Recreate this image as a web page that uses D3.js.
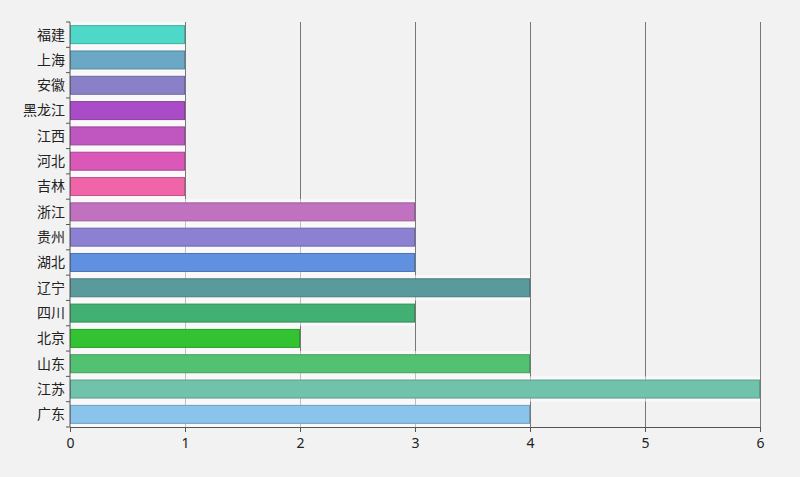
<!DOCTYPE html>
<html><head><meta charset="utf-8">
<script src="https://cdn.jsdelivr.net/npm/d3@7"></script>
<style>
html,body{margin:0;padding:0;background:#f2f2f2;}
svg{display:block;font-family:"Noto Sans CJK SC","Noto Sans",sans-serif;}
</style></head>
<body><svg id="c" width="800" height="477"></svg>
<script>
const categories = ["福建","上海","安徽","黑龙江","江西","河北","吉林","浙江","贵州","湖北","辽宁","四川","北京","山东","江苏","广东"];
const values = [1,1,1,1,1,1,1,3,3,3,4,3,2,4,6,4];
const colors = ["#4ed8c8","#6aa8c6","#8a80c8","#aa4cc8","#c056c0","#da58b8","#f064a8","#c072c0","#8c80d2","#6090e0","#5a9a9c","#42b072","#32c232","#52c272","#70c2aa","#8ac4ea"];
const xTicks = [0,1,2,3,4,5,6];

const svg = d3.select("#c");
const m = {left:70, right:40, top:22, bottom:50};
const W = 800, H = 477;
const x = d3.scaleLinear().domain([0,6]).range([m.left, 760]);
const y = d3.scaleBand().domain(categories).range([m.top, 427]).paddingInner(0.25).paddingOuter(0.125);

// gridlines
svg.append("g").selectAll("line").data(xTicks.filter(d=>d>0)).join("line")
  .attr("x1",d=>x(d)).attr("x2",d=>x(d)).attr("y1",m.top).attr("y2",427)
  .attr("stroke","#777").attr("stroke-width",1).attr("shape-rendering","crispEdges");

// halos
const step = y.step();
svg.append("g").selectAll("rect").data(categories).join("rect")
  .attr("x",x(0)).attr("y",d=>y(d)-(step-y.bandwidth())/2)
  .attr("width",(d,i)=>x(values[i])-x(0)).attr("height",step)
  .attr("fill","#fff").attr("opacity",0.55);

// bars
svg.append("g").selectAll("rect").data(categories).join("rect")
  .attr("x",x(0)+0.5).attr("y",d=>y(d)+0.5)
  .attr("width",(d,i)=>x(values[i])-x(0)-1).attr("height",y.bandwidth()-1)
  .attr("fill",(d,i)=>colors[i])
  .attr("stroke",(d,i)=>d3.color(colors[i]).darker(0.6))
  .attr("stroke-width",1);

// x axis
const xa = svg.append("g").attr("transform",`translate(0,427)`)
  .call(d3.axisBottom(x).tickValues(xTicks).tickFormat(d3.format("d")).tickSize(5).tickSizeOuter(0));
xa.select(".domain").attr("stroke","#555");
xa.selectAll(".tick line").attr("stroke","#555");
xa.selectAll("text").attr("fill","#222").attr("font-size",14).attr("font-family","'Noto Sans','Noto Sans CJK SC',sans-serif").attr("dy","0.9em");

// y axis with ticks at band boundaries
const ya = svg.append("g").attr("transform",`translate(${m.left},0)`);
ya.append("line").attr("x1",0).attr("x2",0).attr("y1",m.top).attr("y2",427).attr("stroke","#555");
const bounds = d3.range(categories.length+1).map(i=>m.top+i*step);
ya.selectAll("line.t").data(bounds).join("line").attr("class","t")
  .attr("x1",-4).attr("x2",0).attr("y1",d=>d).attr("y2",d=>d).attr("stroke","#555");
ya.selectAll("text").data(categories).join("text")
  .attr("x",-5).attr("y",d=>y(d)+y.bandwidth()/2).attr("dy","0.35em")
  .attr("text-anchor","end").attr("font-size",14).attr("fill","#222").text(d=>d);
</script></body></html>
